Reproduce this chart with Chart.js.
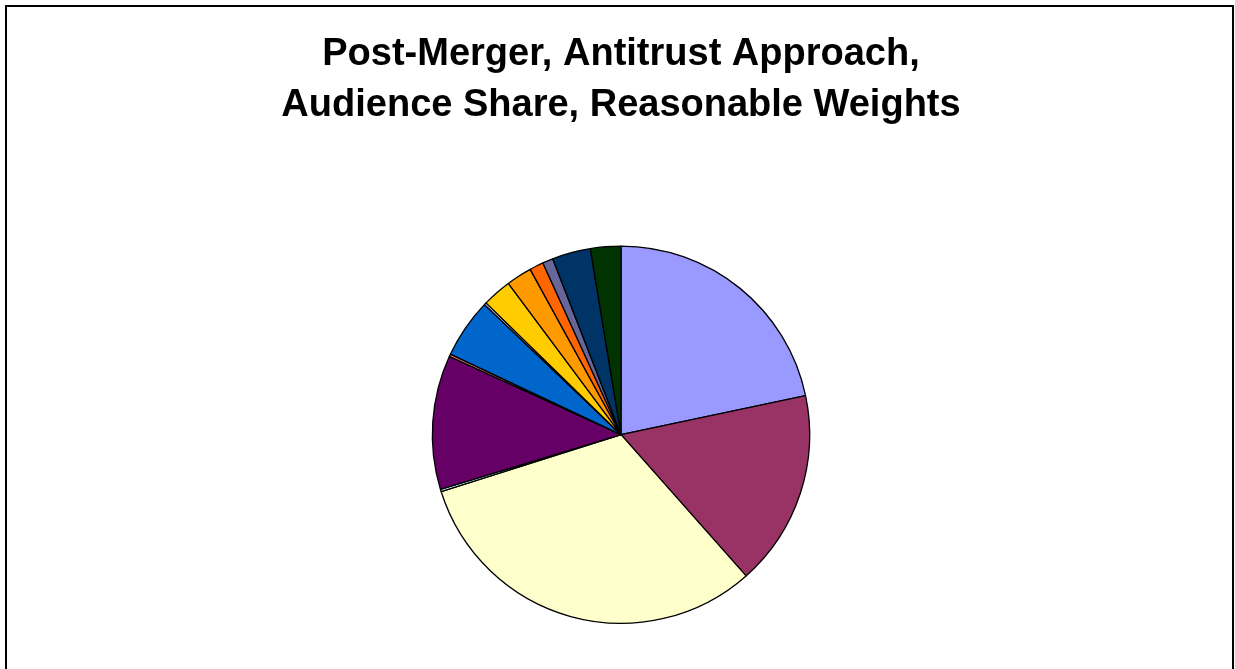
<!DOCTYPE html>
<html>
<head>
<meta charset="utf-8">
<script src="https://cdn.jsdelivr.net/npm/chart.js@4/dist/chart.umd.min.js"></script>
<style>
    html, body { margin: 0; padding: 0; background: #fff; overflow: hidden; }
    #frame {
        position: absolute; left: 5px; top: 5px; width: 1229px; height: 700px;
        border: 2px solid #000; box-sizing: border-box;
    }
    #wrap { position: absolute; left: 0; top: 0; width: 1235px; height: 669px; }
</style>
</head>
<body>
<div id="frame"></div>
<div id="wrap"><canvas id="shareChart"></canvas></div>
<script>
// audience share by outlet, post-merger (clockwise from 12 o'clock)
const outlets = ['Outlet A', 'Outlet B', 'Outlet C', 'Outlet D', 'Outlet E', 'Outlet F', 'Outlet G',
    'Outlet H', 'Outlet I', 'Outlet J', 'Outlet K', 'Outlet L', 'Outlet M', 'Outlet N'];
const shares = [21.7, 16.8, 31.7, 0.2, 11.5, 0.2, 5.1, 0.2, 2.5, 2.2, 1.2, 0.9, 3.3, 2.6];
const sliceColors = ['#9999FF', '#993366', '#FFFFCC', '#CCFFFF', '#660066', '#FF8080', '#0066CC',
    '#CCCCFF', '#FFCC00', '#FF9900', '#FF6600', '#666699', '#003366', '#003300'];
const titleLines = ['Post-Merger, Antitrust Approach,', 'Audience Share, Reasonable Weights'];

const ctx = document.getElementById('shareChart');

new Chart(ctx, {
    type: 'pie',
    data: {
        labels: outlets,
        datasets: [{
            data: shares,
            backgroundColor: sliceColors,
            borderColor: '#000',
            borderWidth: 1.3
        }]
    },
    options: {
        responsive: true,
        maintainAspectRatio: false,
        animation: false,
        layout: {
            padding: { left: 7, right: 0, top: 0, bottom: 45 }
        },
        plugins: {
            legend: { display: false },
            tooltip: { enabled: false },
            title: {
                display: true,
                text: titleLines,
                color: '#000',
                font: { family: "'Liberation Sans', Arial, sans-serif", size: 38, weight: 'bold', lineHeight: 1.334 },
                padding: { top: 29, bottom: 115 }
            }
        }
    }
});
</script>
</body>
</html>
